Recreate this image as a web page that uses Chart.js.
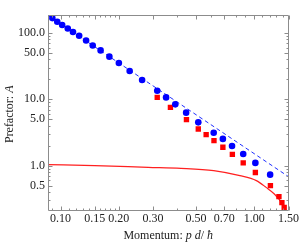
<!DOCTYPE html>
<html><head><meta charset="utf-8">
<script src="https://cdn.jsdelivr.net/npm/chart.js@4"></script>
<style>html,body{margin:0;padding:0;background:#fff}canvas{display:block}</style>
</head><body>
<canvas id="c" width="300" height="244"></canvas>
<script>
// Blue circles (numerical prefactor)
const blueP = [0.0908,0.0962,0.102,0.109,0.116,0.1248,0.1355,0.1466,0.161,0.1787,0.200,0.2274,0.2636,0.3155,0.3505,0.391,0.4447,0.5137,0.617,0.688,0.767,0.876,1.012,1.206];
const blueA = [168,148,132,117,103.5,91,77.3,65,54.7,44,35.3,26.7,19.6,13.5,10.7,8.4,6.3,4.5,3.14,2.53,1.98,1.50,1.10,0.732];
// Red squares
const redP = [0.3155,0.369,0.4464,0.5137,0.564,0.619,0.688,0.770,0.876,1.012,1.21,1.339,1.387,1.425];
const redA = [10.7,7.57,4.94,3.57,2.93,2.38,1.89,1.48,1.10,0.788,0.50,0.341,0.277,0.235];
// Red solid curve
const curveP = [0.0862,0.15,0.283,0.418,0.617,0.842,1.024,1.15,1.268,1.399,1.454];
const curveA = [1.035,1.0,0.943,0.911,0.841,0.706,0.594,0.47,0.374,0.264,0.215];
// Blue dashed asymptote
const dashP = [0.0862,1.5];
const dashA = [184,0.682];
// Axes
const xTickVals = [0.10,0.15,0.20,0.30,0.50,0.70,1.00,1.50];
const xTickLabels = ["0.10","0.15","0.20","0.30","0.50","0.70","1.00","1.50"];
const xMinor = [0.09,0.11,0.12,0.13,0.14,0.16,0.17,0.18,0.19,0.4,0.6,0.8,0.9,1.1,1.2,1.3,1.4];
const yTickVals = [0.5,1,5,10,50,100];
const yTickLabels = ["0.5","1.0","5.0","10.0","50.0","100.0"];
const yMinor = [0.3,0.4,0.6,0.7,0.8,0.9,2,3,4,6,7,8,9,20,30,40,60,70,80,90];

const pts = (xs, ys) => xs.map((v, i) => ({x: v, y: ys[i]}));
const FONT = '"Liberation Serif", "DejaVu Serif", serif';
const FRAME = '#8c8c8c';

const framePlugin = {
  id: 'frame',
  afterDatasetsDraw(chart) {
    const {ctx, chartArea: a, scales: {x, y}} = chart;
    ctx.save();
    ctx.strokeStyle = FRAME;
    ctx.lineWidth = 1;
    const L = Math.round(a.left) + 0.5, R = Math.round(a.right) - 0.5;
    const T = Math.round(a.top) + 0.5, B = Math.round(a.bottom) - 0.5;
    ctx.beginPath();
    ctx.rect(L, T, R - L, B - T);
    const seg = (x1, y1, x2, y2) => { ctx.moveTo(x1, y1); ctx.lineTo(x2, y2); };
    const xt = (v, len) => { const p = Math.round(x.getPixelForValue(v)) + 0.5; seg(p, B, p, B - len); seg(p, T, p, T + len); };
    const yt = (v, len) => { const p = Math.round(y.getPixelForValue(v)) + 0.5; seg(L, p, L + len, p); seg(R, p, R - len, p); };
    xTickVals.forEach(v => xt(v, 4));
    xMinor.forEach(v => xt(v, 2));
    yTickVals.forEach(v => yt(v, 4));
    yMinor.forEach(v => yt(v, 2));
    ctx.stroke();
    ctx.restore();
  },
  afterDraw(chart) {
    const {ctx, chartArea: a} = chart;
    ctx.save();
    ctx.fillStyle = '#222';
    ctx.textBaseline = 'alphabetic';
    // x title with italic parts
    const parts = [["Momentum: ", false], ["p", true], [" ", false], ["d", true], ["/ ", false], ["\u0127", true]];
    const f = it => (it ? 'italic ' : '') + '12px ' + FONT;
    let total = 0;
    parts.forEach(([t, it]) => { ctx.font = f(it); total += ctx.measureText(t).width; });
    let xx = (a.left + a.right) / 2 - total / 2;
    ctx.textAlign = 'left';
    parts.forEach(([t, it]) => { ctx.font = f(it); ctx.fillText(t, xx, 238.5); xx += ctx.measureText(t).width; });
    // y title
    const yparts = [["Prefactor: ", false], ["A", true]];
    let ytot = 0;
    yparts.forEach(([t, it]) => { ctx.font = f(it); ytot += ctx.measureText(t).width; });
    ctx.translate(13, 114.3);
    ctx.rotate(-Math.PI / 2);
    let yy = -ytot / 2;
    yparts.forEach(([t, it]) => { ctx.font = f(it); ctx.fillText(t, yy, 0); yy += ctx.measureText(t).width; });
    ctx.restore();
  }
};

new Chart(document.getElementById('c'), {
  type: 'scatter',
  data: {
    datasets: [
      {data: pts(blueP, blueA), pointStyle: 'circle', pointRadius: 3.3, backgroundColor: '#0000ff', borderWidth: 0, showLine: false},
      {data: pts(redP, redA), pointStyle: 'rect', pointRadius: 3.8, backgroundColor: '#ff0000', borderWidth: 0, showLine: false},
      {data: pts(curveP, curveA), showLine: true, pointRadius: 0, borderColor: '#ff2020', borderWidth: 1.2, cubicInterpolationMode: 'monotone', fill: false},
      {data: pts(dashP, dashA), showLine: true, pointRadius: 0, borderColor: '#2030ff', borderWidth: 1, borderDash: [4, 3], fill: false}
    ]
  },
  options: {
    responsive: false,
    animation: false,
    devicePixelRatio: 1,
    layout: {padding: {top: 15, right: 7, left: 0, bottom: 0}},
    plugins: {legend: {display: false}, tooltip: {enabled: false}, title: {display: false}},
    scales: {
      x: {
        type: 'logarithmic', min: 0.0862, max: 1.5,
        grid: {display: false, drawTicks: false, tickLength: 0}, border: {display: false},
        afterBuildTicks: s => { s.ticks = xTickVals.map(v => ({value: v})); },
        afterFit: s => { s.height = 33; },
        ticks: {autoSkip: false, maxRotation: 0, padding: 1, color: '#222', font: {family: FONT, size: 12},
          callback: v => { const i = xTickVals.findIndex(t => Math.abs(t - v) < 1e-9); return i >= 0 ? xTickLabels[i] : ''; }}
      },
      y: {
        type: 'logarithmic', min: 0.207, max: 187,
        grid: {display: false, drawTicks: false, tickLength: 0}, border: {display: false},
        afterBuildTicks: s => { s.ticks = yTickVals.map(v => ({value: v})); },
        afterFit: s => { s.width = 48; },
        ticks: {autoSkip: false, padding: 3, color: '#222', font: {family: FONT, size: 12},
          callback: v => { const i = yTickVals.findIndex(t => Math.abs(t - v) < 1e-9); return i >= 0 ? yTickLabels[i] : ''; }}
      }
    }
  },
  plugins: [framePlugin]
});
</script>
</body></html>
